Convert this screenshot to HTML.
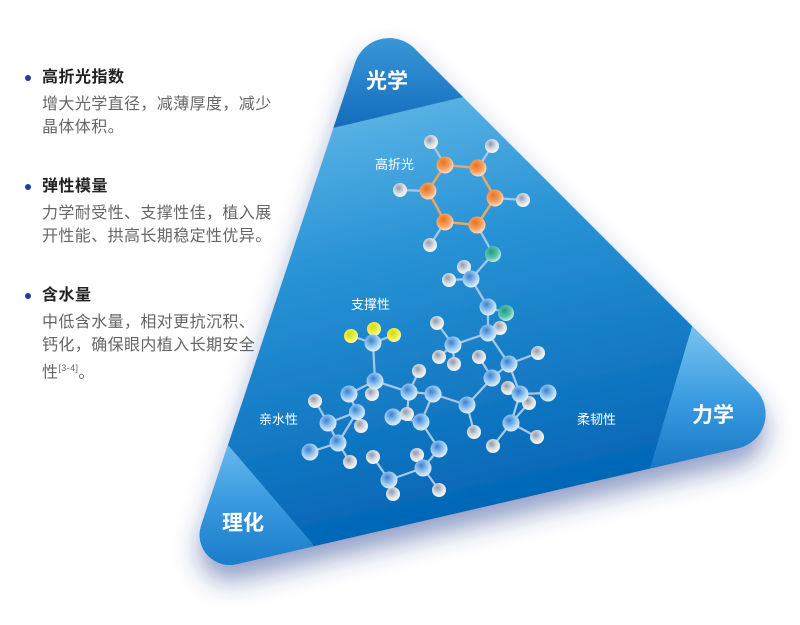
<!DOCTYPE html>
<html><head><meta charset="utf-8"><style>
html,body{margin:0;padding:0;background:#fff;width:800px;height:625px;overflow:hidden}
body{position:relative;font-family:"Liberation Sans","Noto Sans CJK SC",sans-serif}
.t{position:absolute;left:42px;font-size:16px;line-height:20px;font-weight:bold;color:#222;letter-spacing:0.5px}
.d{position:absolute;left:42px;font-size:16px;color:#666;line-height:23px;width:260px;letter-spacing:0.4px;white-space:nowrap}
.b{position:absolute;left:25px;width:6px;height:6px;border-radius:50%;background:#1a3f9c}
svg{position:absolute;left:0;top:0}
</style></head><body>
<div class="b" style="top:75px"></div><div class="t" style="top:68px">高折光指数</div>
<div class="d" style="top:93px">增大光学直径，减薄厚度，减少<br>晶体体积。</div>
<div class="b" style="top:184px"></div><div class="t" style="top:177px">弹性模量</div>
<div class="d" style="top:202px">力学耐受性、支撑性佳，植入展<br>开性能、拱高长期稳定性优异。</div>
<div class="b" style="top:293px"></div><div class="t" style="top:286px">含水量</div>
<div class="d" style="top:311px">中低含水量，相对更抗沉积、<br>钙化，确保眼内植入长期安全<br>性<sup style="font-size:9px">[3-4]</sup>。</div>
<svg width="800" height="625" viewBox="0 0 800 625">
<defs>
<linearGradient id="g" x1="0" y1="0" x2="0.25" y2="1"><stop offset="0" stop-color="#7fcaf0"/><stop offset="0.45" stop-color="#2a94d6"/><stop offset="1" stop-color="#0062b4"/></linearGradient>
<linearGradient id="gt" x1="0" y1="0" x2="0" y2="1"><stop offset="0" stop-color="#4aa8e4"/><stop offset="1" stop-color="#0a63b5"/></linearGradient>
<linearGradient id="gr" x1="0" y1="0" x2="0" y2="1"><stop offset="0" stop-color="#8fd2f4"/><stop offset="0.5" stop-color="#3a9be0"/><stop offset="1" stop-color="#0a68ba"/></linearGradient>
<linearGradient id="gl" x1="0" y1="0" x2="0" y2="1"><stop offset="0" stop-color="#8fd2f4"/><stop offset="0.5" stop-color="#3a9be0"/><stop offset="1" stop-color="#0a6cc0"/></linearGradient>
<clipPath id="c"><path id="tp" d="M355,63 A36,36 0 0 1 415,49 L755,389 A35,35 0 0 1 739,448 L237,564 A30,30 0 0 1 201,526 Z"/></clipPath>
<filter id="sh" x="-20%" y="-20%" width="140%" height="150%"><feDropShadow dx="0" dy="16" stdDeviation="13" flood-color="#1c3a8c" flood-opacity="0.5"/></filter>
<radialGradient id="ab" cx="0.4" cy="0.35" r="0.7"><stop offset="0" stop-color="#3b7fd0"/><stop offset="0.5" stop-color="#8fc3ee"/><stop offset="1" stop-color="#eef7ff"/></radialGradient>
<radialGradient id="ah" cx="0.4" cy="0.35" r="0.7"><stop offset="0" stop-color="#8f9aa8"/><stop offset="0.55" stop-color="#d6dde4"/><stop offset="1" stop-color="#ffffff"/></radialGradient>
<radialGradient id="ao" cx="0.4" cy="0.35" r="0.7"><stop offset="0" stop-color="#e8721e"/><stop offset="0.55" stop-color="#f5a060"/><stop offset="1" stop-color="#fde8d5"/></radialGradient>
<radialGradient id="at" cx="0.4" cy="0.35" r="0.7"><stop offset="0" stop-color="#1f9a86"/><stop offset="0.6" stop-color="#5cc4ae"/><stop offset="1" stop-color="#d9f5ee"/></radialGradient>
<radialGradient id="ay" cx="0.4" cy="0.35" r="0.7"><stop offset="0" stop-color="#d8d80a"/><stop offset="0.6" stop-color="#eef050"/><stop offset="1" stop-color="#fbfdd0"/></radialGradient>
</defs>
<g filter="url(#sh)"><use href="#tp" fill="url(#g)"/></g>
<g clip-path="url(#c)">
<polygon points="250,148 333,128 463,97 560,74 560,0 250,0" fill="url(#gt)"/>
<polygon points="700,300 691,330 651,465 640,500 820,500 820,300" fill="url(#gr)"/>
<polygon points="190,400 228,445 312,543 340,590 150,600" fill="url(#gl)"/>
</g>
<g font-weight="bold" fill="#fff" font-size="21">
<text x="366" y="88">光学</text><text x="692" y="422">力学</text><text x="222" y="530">理化</text></g>
<g fill="#fff" font-size="13"><text x="375" y="169">高折光</text><text x="351" y="309">支撑性</text><text x="259" y="424">亲水性</text><text x="577" y="424">柔韧性</text></g>
<g stroke="#e9a766" stroke-width="2.5" fill="none"><polygon points="445,165 478,168 495,198 477,225 445,222 428,191"/></g>
<g stroke="#a8c8e8" stroke-width="2.2">
<line x1="445" y1="165" x2="431" y2="142"/><line x1="478" y1="168" x2="492" y2="146"/><line x1="428" y1="191" x2="400" y2="190"/><line x1="495" y1="198" x2="523" y2="200"/><line x1="445" y1="222" x2="430" y2="245"/><line x1="477" y1="225" x2="493" y2="254"/>
<line x1="493" y1="254" x2="471" y2="279"/><line x1="471" y1="279" x2="464" y2="267"/><line x1="471" y1="279" x2="449" y2="280"/><line x1="471" y1="279" x2="488" y2="307"/><line x1="488" y1="307" x2="506" y2="313"/><line x1="488" y1="307" x2="488" y2="333"/><line x1="488" y1="333" x2="500" y2="328"/>
<line x1="488" y1="333" x2="453" y2="345"/><line x1="453" y1="345" x2="437" y2="323"/><line x1="453" y1="345" x2="439" y2="357"/><line x1="453" y1="345" x2="454" y2="364"/>
<line x1="488" y1="333" x2="509" y2="364"/><line x1="509" y1="364" x2="538" y2="353"/><line x1="509" y1="364" x2="492" y2="378"/><line x1="509" y1="364" x2="520" y2="394"/><line x1="492" y1="378" x2="479" y2="357"/>
<line x1="520" y1="394" x2="548" y2="393"/><line x1="520" y1="394" x2="508" y2="388"/><line x1="520" y1="394" x2="511" y2="423"/><line x1="511" y1="423" x2="537" y2="437"/><line x1="511" y1="423" x2="493" y2="446"/><line x1="511" y1="423" x2="529" y2="403"/>
<line x1="492" y1="378" x2="467" y2="405"/><line x1="467" y1="405" x2="474" y2="432"/><line x1="467" y1="405" x2="433" y2="394"/>
<line x1="433" y1="394" x2="409" y2="392"/><line x1="433" y1="394" x2="421" y2="422"/><line x1="409" y1="392" x2="419" y2="371"/><line x1="409" y1="392" x2="375" y2="381"/><line x1="409" y1="392" x2="407" y2="414"/><line x1="421" y1="422" x2="393" y2="417"/>
<line x1="421" y1="422" x2="439" y2="449"/><line x1="439" y1="449" x2="423" y2="468"/><line x1="423" y1="468" x2="417" y2="455"/><line x1="423" y1="468" x2="439" y2="490"/><line x1="423" y1="468" x2="389" y2="480"/><line x1="389" y1="480" x2="373" y2="457"/><line x1="389" y1="480" x2="393" y2="494"/>
<line x1="375" y1="381" x2="373" y2="343"/><line x1="373" y1="343" x2="351" y2="336"/><line x1="373" y1="343" x2="374" y2="329"/><line x1="373" y1="343" x2="394" y2="335"/>
<line x1="375" y1="381" x2="372" y2="394"/><line x1="375" y1="381" x2="349" y2="394"/><line x1="349" y1="394" x2="357" y2="412"/><line x1="357" y1="412" x2="361" y2="426"/><line x1="357" y1="412" x2="328" y2="423"/><line x1="328" y1="423" x2="315" y2="401"/><line x1="328" y1="423" x2="338" y2="443"/><line x1="357" y1="412" x2="338" y2="443"/><line x1="338" y1="443" x2="310" y2="452"/><line x1="338" y1="443" x2="350" y2="462"/>
</g>
<g>
<g fill="url(#ah)">
<circle cx="431" cy="142" r="7"/><circle cx="492" cy="146" r="7"/><circle cx="400" cy="190" r="7"/><circle cx="523" cy="200" r="7"/><circle cx="430" cy="245" r="7"/>
<circle cx="464" cy="267" r="7"/><circle cx="449" cy="280" r="7"/><circle cx="500" cy="328" r="7"/><circle cx="437" cy="323" r="7"/><circle cx="439" cy="357" r="7"/><circle cx="454" cy="364" r="7"/>
<circle cx="538" cy="353" r="7"/><circle cx="479" cy="357" r="7"/><circle cx="508" cy="388" r="7"/><circle cx="529" cy="403" r="7"/><circle cx="537" cy="437" r="7"/><circle cx="493" cy="446" r="7"/><circle cx="474" cy="432" r="7"/>
<circle cx="419" cy="371" r="7"/><circle cx="407" cy="414" r="7"/><circle cx="417" cy="455" r="7"/><circle cx="439" cy="490" r="7"/><circle cx="373" cy="457" r="7"/><circle cx="393" cy="494" r="7"/>
<circle cx="372" cy="394" r="7"/><circle cx="361" cy="426" r="7"/><circle cx="315" cy="401" r="7"/><circle cx="350" cy="462" r="7"/>
</g>
<g fill="url(#ao)"><circle cx="445" cy="165" r="8.5"/><circle cx="478" cy="168" r="8.5"/><circle cx="428" cy="191" r="8.5"/><circle cx="495" cy="198" r="8.5"/><circle cx="445" cy="222" r="8.5"/><circle cx="477" cy="225" r="8.5"/></g>
<g fill="url(#at)"><circle cx="493" cy="254" r="8"/><circle cx="506" cy="313" r="8"/></g>
<g fill="url(#ay)"><circle cx="351" cy="336" r="7"/><circle cx="374" cy="329" r="7"/><circle cx="394" cy="335" r="7"/></g>
<g fill="url(#ab)">
<circle cx="471" cy="279" r="8.5"/><circle cx="488" cy="307" r="8.5"/><circle cx="488" cy="333" r="8.5"/><circle cx="453" cy="345" r="8.5"/><circle cx="509" cy="364" r="8.5"/><circle cx="492" cy="378" r="8.5"/><circle cx="520" cy="394" r="8.5"/><circle cx="548" cy="393" r="8.5"/><circle cx="511" cy="423" r="8.5"/><circle cx="467" cy="405" r="8.5"/><circle cx="433" cy="394" r="8.5"/><circle cx="409" cy="392" r="8.5"/><circle cx="421" cy="422" r="8.5"/><circle cx="393" cy="417" r="8.5"/><circle cx="439" cy="449" r="8.5"/><circle cx="423" cy="468" r="8.5"/><circle cx="389" cy="480" r="8.5"/>
<circle cx="373" cy="343" r="8.5"/><circle cx="375" cy="381" r="8.5"/><circle cx="349" cy="394" r="8.5"/><circle cx="357" cy="412" r="8"/><circle cx="328" cy="423" r="8.5"/><circle cx="338" cy="443" r="8.5"/><circle cx="310" cy="452" r="8.5"/>
</g></g>
</svg>
</body></html>
